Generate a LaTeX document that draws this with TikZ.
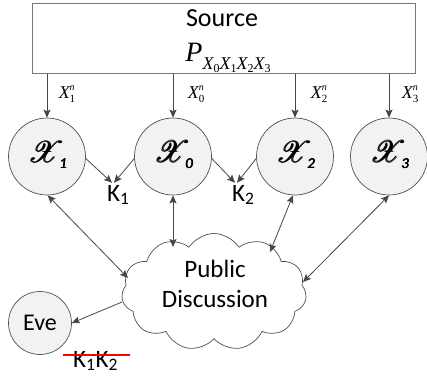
\documentclass[tikz,border=0pt]{standalone}
\usepackage{fontspec}
\usepackage{amsmath}
\usepackage{mathrsfs}
\usepackage{graphicx}
\setmainfont{Carlito}
\newfontfamily\tms{Liberation Serif}
\usetikzlibrary{shapes.symbols,arrows.meta,calc}
\definecolor{boxline}{RGB}{120,120,120}
\definecolor{arrcol}{RGB}{70,70,70}
\definecolor{circline}{RGB}{80,80,80}
\definecolor{circfill}{RGB}{242,242,242}
\newcommand\xlab[1]{{\tms\itshape\fontsize{18}{18}\selectfont X\rlap{\raisebox{8pt}{\fontsize{10}{10}\selectfont n}}\raisebox{-4pt}{\upshape\fontsize{11}{11}\selectfont #1}}}
\newcommand\scx[1]{{\fontsize{24}{24}\selectfont\scalebox{1.2}{$\pmb{\mathscr{X}}$}\hspace{-5pt}\raisebox{-6pt}{\fontsize{15}{15}\selectfont$\pmb{\mathit{#1}}$}}}
\newcommand\psub[1]{X\raisebox{-3pt}{\upshape\fontsize{12}{12}\selectfont #1}}
\begin{document}
\begin{tikzpicture}[x=1pt,y=-1pt,
  srcbox/.style={draw=boxline,line width=0.8pt,minimum width=383pt,minimum height=70pt,anchor=north west,inner sep=0pt},
  agent/.style={circle,draw=circline,line width=0.7pt,fill=circfill,minimum size=77pt,inner sep=0pt},
  evec/.style={circle,draw=circline,line width=0.7pt,fill=circfill,minimum size=63pt,inner sep=0pt,font=\fontsize{24}{24}\selectfont},
  arr/.style={draw=arrcol,line width=0.8pt,-{Stealth[length=8pt,width=7pt,inset=1.5pt]}},
  darr/.style={draw=arrcol,line width=0.8pt,{Stealth[length=8pt,width=7pt,inset=1.5pt]}-{Stealth[length=8pt,width=7pt,inset=1.5pt]}},
  sans/.style={inner sep=0pt,font=\fontsize{25}{25}\selectfont},
  lbl/.style={inner sep=0pt},
  inlab/.style={inner sep=0pt},
  pdcloud/.style={cloud,cloud puffs=11,cloud puff arc=115,aspect=1.6,draw=circline,line width=0.7pt,fill=white,minimum width=185pt,minimum height=117pt,inner sep=0pt}
]
\useasboundingbox (0,0) rectangle (427,375);
% source box
\node[srcbox] (src) at (32,3) {};
\node[sans,anchor=base,font=\fontsize{26}{26}\selectfont] (srct) at (222,26) {Source};
\node[lbl,anchor=base] (pform) at (228,61) {\tms\itshape\fontsize{28}{28}\selectfont P\raisebox{-8pt}{\fontsize{18}{18}\selectfont \psub{0}\psub{1}\psub{2}\psub{3}}};
% agents
\node[agent] (x1) at (47,156.5) {};
\node[agent] (x0) at (173,156.5) {};
\node[agent] (x2) at (295,156.5) {};
\node[agent] (x3) at (389,156.5) {};
\node[inlab] (t1) at (48,155) {\scx{1}};
\node[inlab] (t0) at (174,155) {\scx{0}};
\node[inlab] (t2) at (296,155) {\scx{2}};
\node[inlab] (t3) at (390,155) {\scx{3}};
% source arrows
\draw[arr] (x1.north |- src.south) -- (x1.north);
\draw[arr] (x0.north |- src.south) -- (x0.north);
\draw[arr] (x2.north |- src.south) -- (x2.north);
\draw[arr] (x3.north |- src.south) -- (x3.north);
\node[lbl] (l1) at (67,94) {\xlab{1}};
\node[lbl] (l0) at (196,94) {\xlab{0}};
\node[lbl] (l2) at (319,94) {\xlab{2}};
\node[lbl] (l3) at (410,94) {\xlab{3}};
% keys
\node[sans,anchor=base west] (k1) at (107,201) {K\textsubscript{1}};
\node[sans,anchor=base west] (k2) at (232,201) {K\textsubscript{2}};
\draw[arr] (x1.-3) -- ($(k1.north west)+(5,-2)$);
\draw[arr] (x0.183) -- ($(k1.north west)+(7,-2)$);
\draw[arr] (x0.-3) -- ($(k2.north west)+(3,-2)$);
\draw[arr] (x2.183) -- ($(k2.north west)+(5,-2)$);
% public discussion
\node[pdcloud] (pd) at (214,292) {};
\node[sans,align=center,font=\fontsize{25}{30}\selectfont] (pdt) at (215,284) {Public\\Discussion};
\draw[darr] (x1.-89) -- ($(pd.center)+(-86,-14)$);
\draw[darr] (x0.south) -- ($(pd.center)+(-41,-45)$);
\draw[darr] (x2.-93) -- ($(pd.center)+(56,-40)$);
\draw[darr] (x3.-90) -- ($(pd.center)+(89,-10)$);
% eve
\node[evec] (eve) at (40,323) {Eve};
\draw[arr] ($(pd.center)+(-92,10)$) -- (eve.east);
\node[sans,anchor=base west] (kk) at (73,367) {K\textsubscript{1}K\textsubscript{2}};
\draw[red,line width=1.4pt] ($(kk.base west)+(-10,-12)$) -- ($(kk.base east)+(12,-12)$);
\end{tikzpicture}
\end{document}
